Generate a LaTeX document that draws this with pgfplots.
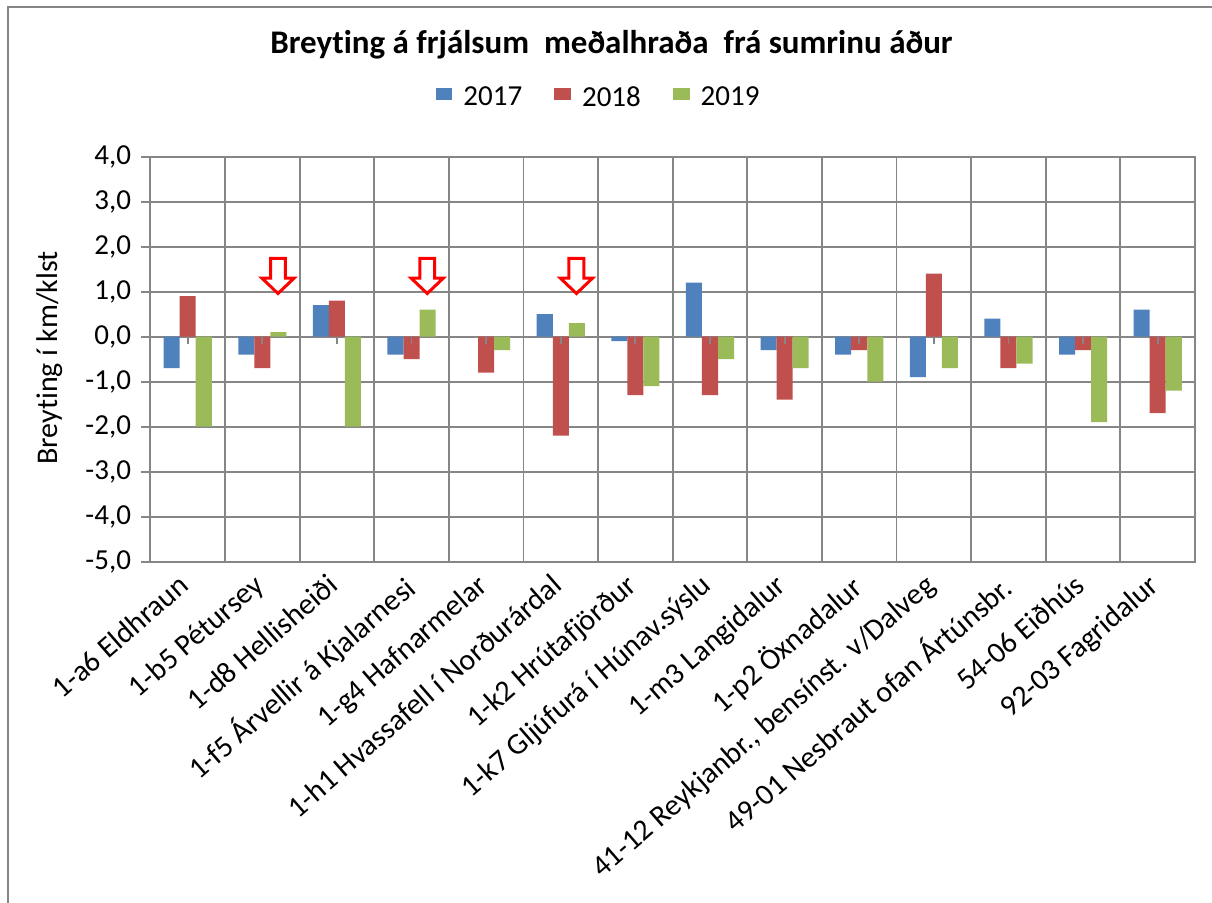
\documentclass[border=0pt]{standalone}
\usepackage{fontspec}
\setmainfont{Carlito}[Ligatures={NoCommon}]
\usepackage{pgfplots}
\pgfplotsset{compat=1.18}

\definecolor{c17}{RGB}{79,129,189}
\definecolor{c18}{RGB}{192,80,77}
\definecolor{c19}{RGB}{155,187,89}
\definecolor{gridgray}{RGB}{134,134,134}
\newcommand{\lbl}{\fontsize{14.5}{14.5}\selectfont}

\begin{document}
\begin{tikzpicture}
\begin{axis}[
  at={(0,0)}, anchor=south west, scale only axis,
  width=522.3pt, height=202.5pt,
  xmin=-0.5, xmax=13.5, ymin=-5, ymax=4,
  ybar=0pt, bar width=0.215,
  xtick={0,...,13},
  xticklabels={{1-a6 Eldhraun},{1-b5 Pétursey},{1-d8 Hellisheiði},{1-f5 Árvellir á Kjalarnesi},
    {1-g4 Hafnarmelar},{1-h1 Hvassafell í Norðurárdal},{1-k2 Hrútafjörður},{1-k7 Gljúfurá í Húnav.sýslu},
    {1-m3 Langidalur},{1-p2 Öxnadalur},{41-12 Reykjanbr., bensínst. v/Dalveg},{49-01 Nesbraut ofan Ártúnsbr.},
    {54-06 Eiðhús},{92-03 Fagridalur}},
  x tick label style={rotate=41, anchor=north east, font=\fontsize{15}{15}\selectfont,
    inner sep=0pt, yshift=3pt, xshift=-4.5pt},
  xtick style={draw=none},
  minor xtick={-0.5,0.5,...,13.5},
  minor x tick style={draw=none},
  xminorgrids, ymajorgrids,
  ytick={-5,...,4},
  ytick pos=left, tick align=outside, major tick length=4.5pt,
  ytick style={gridgray, line width=0.9pt},
  y tick label style={font=\lbl, anchor=east, inner sep=0pt, xshift=-5pt},
  /pgf/number format/.cd, fixed, fixed zerofill, precision=1, use comma, assume math mode=true,
  /pgfplots/.cd,
  grid style={gridgray, line width=0.9pt},
  minor grid style={gridgray, line width=0.9pt},
  axis line style={gridgray, line width=0.9pt},
  legend style={at={(0.43,1.145)}, anchor=center, draw=none, fill=none, font=\lbl,
    legend columns=3, inner sep=0pt,
    /tikz/every odd column/.append style={column sep=3.5pt},
    /tikz/every even column/.append style={column sep=14pt}},
  legend image code/.code={\fill[#1] (0pt,-1pt) rectangle (8.4pt,5pt);},
  clip=false,
]
\addplot[fill=c17, draw=none] coordinates {
  (0,-0.7) (1,-0.4) (2,0.7) (3,-0.4) (5,0.5) (6,-0.1) (7,1.2)
  (8,-0.3) (9,-0.4) (10,-0.9) (11,0.4) (12,-0.4) (13,0.6)};
\addlegendentry{2017}
\addplot[fill=c18, draw=none] coordinates {
  (0,0.9) (1,-0.7) (2,0.8) (3,-0.5) (4,-0.8) (5,-2.2) (6,-1.3)
  (7,-1.3) (8,-1.4) (9,-0.3) (10,1.4) (11,-0.7) (12,-0.3) (13,-1.7)};
\addlegendentry{2018}
\addplot[fill=c19, draw=none] coordinates {
  (0,-2.0) (1,0.1) (2,-2.0) (3,0.6) (4,-0.3) (5,0.3) (6,-1.1)
  (7,-0.5) (8,-0.7) (9,-1.0) (10,-0.7) (11,-0.6) (12,-1.9) (13,-1.2)};
\addlegendentry{2019}
% small ticks on the zero line
\pgfplotsinvokeforeach{0,...,13}{\draw[gridgray,line width=0.9pt] (axis cs:#1,0) -- (axis cs:#1,-0.16);}
% red hollow arrows
\draw[red,line width=1.5pt,fill=white,line join=miter] (axis cs:1.11,1.74) -- (axis cs:1.31,1.74) -- (axis cs:1.31,1.30) -- (axis cs:1.425,1.30) -- (axis cs:1.21,0.96) -- (axis cs:0.995,1.30) -- (axis cs:1.11,1.30) -- cycle;
\draw[red,line width=1.5pt,fill=white,line join=miter] (axis cs:3.11,1.74) -- (axis cs:3.31,1.74) -- (axis cs:3.31,1.30) -- (axis cs:3.425,1.30) -- (axis cs:3.21,0.96) -- (axis cs:2.995,1.30) -- (axis cs:3.11,1.30) -- cycle;
\draw[red,line width=1.5pt,fill=white,line join=miter] (axis cs:5.11,1.74) -- (axis cs:5.31,1.74) -- (axis cs:5.31,1.30) -- (axis cs:5.425,1.30) -- (axis cs:5.21,0.96) -- (axis cs:4.995,1.30) -- (axis cs:5.11,1.30) -- cycle;
\end{axis}
\node[anchor=base, font=\bfseries\fontsize{16.5}{16.5}\selectfont] at (230.55pt,254.2pt) {Breyting á frjálsum\ \ meðalhraða\ \ frá sumrinu áður};
\node[rotate=90, font=\fontsize{15}{15}\selectfont] at (-50.2pt,101.85pt) {Breyting í km/klst};
\draw[gridgray, line width=1pt] (-71.2pt,-175pt) -- (-71.2pt,277.35pt) -- (535pt,277.35pt);
\pgfresetboundingbox
\useasboundingbox (-75.2pt,-170.65pt) rectangle (530.8pt,280.85pt);
\end{tikzpicture}
\end{document}
